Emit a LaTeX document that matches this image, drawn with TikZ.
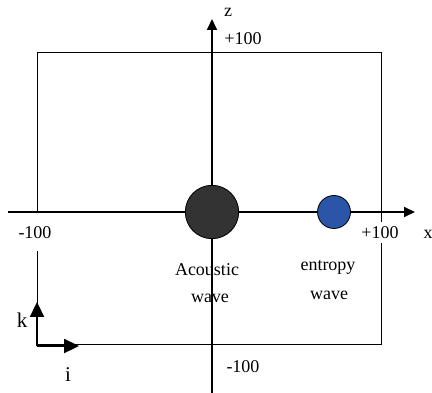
\documentclass[tikz,border=0pt]{standalone}
\usepackage{fontspec}
\setmainfont{Liberation Serif}
\usetikzlibrary{arrows.meta}
\definecolor{darkball}{HTML}{333333}
\definecolor{blueball}{HTML}{2B55A6}
\begin{document}
\begin{tikzpicture}[x=1pt,y=-1pt,
  lbl/.style={font=\fontsize{18}{21}\selectfont, inner sep=0pt},
  big/.style={font=\fontsize{21}{24}\selectfont, inner sep=0pt},
  frame/.style={line width=1pt, black},
  axis/.style={line width=2pt, -{Triangle[length=11pt,width=10pt]}},
  unit/.style={line width=2.3pt, -{Triangle[length=15pt,width=14pt]}}]
\useasboundingbox (0,0) rectangle (432,393);
% frame
\coordinate (TL) at (37,53);
\coordinate (TR) at (381,53);
\coordinate (BL) at (37,345);
\coordinate (BR) at (381,345);
\coordinate (Lgap1) at (37,213);
\coordinate (Lgap2) at (37,251);
\coordinate (Rgap1) at (381,222);
\coordinate (Rgap2) at (381,243);
\draw[frame] (Lgap1) -- (TL) -- (TR) -- (Rgap1);
\draw[frame] (Rgap2) -- (BR) -- (BL) -- (Lgap2);
% axes
\coordinate (xs) at (8,212);
\coordinate (xe) at (415,212);
\coordinate (zs) at (212,393);
\coordinate (ze) at (212,19);
\draw[axis] (xs) -- (xe);
% text
\node[lbl] (acou) at (207,270) {Acoustic};
\node[lbl] (acouw) at (210,298) {wave};
\node[lbl] (entr) at (328,267) {entropy};
\node[lbl] (entrw) at (329,295) {wave};
\draw[axis] (zs) -- (ze);
% balls
\node[circle, draw=black, line width=0.8pt, fill=darkball, minimum size=53.4pt, inner sep=0pt] (ac) at (212,212) {};
\node[circle, draw=black, line width=0.8pt, fill=blueball, minimum size=33pt, inner sep=0pt] (en) at (334,212) {};
% labels
\node[lbl] (z) at (228,12) {z};
\node[lbl] (zp) at (243,39) {+100};
\node[lbl] (xm) at (35,233) {-100};
\node[lbl] (xp) at (380,233) {+100};
\node[lbl] (x) at (428,234) {x};
\node[lbl] (zm) at (243,367) {-100};
% unit vectors
\coordinate (o) at (37,346);
\coordinate (kt) at (37,302);
\coordinate (it) at (79,346);
\draw[unit] (o) -- (kt);
\draw[unit] (o) -- (it);
\node[big] (k) at (22,320) {k};
\node[big] (i) at (68,375) {i};
\end{tikzpicture}
\end{document}
